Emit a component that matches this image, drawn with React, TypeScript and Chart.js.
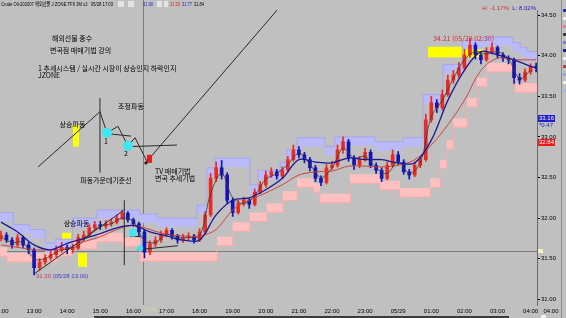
import React, { useEffect, useRef } from 'react';
import { Chart, registerables } from 'chart.js';

Chart.register(...registerables);

// 10-minute bars starting 05/28 12:00 (x value = minutes since 12:00)
const BAR_MIN = 10;
const opens = [
  31.76,31.79,31.73,31.67,31.76,31.67,31.61,31.39,31.46,31.51,
  31.55,31.61,31.64,31.61,31.63,31.76,31.79,31.88,31.92,31.90,
  31.93,31.95,32.00,32.06,31.98,31.93,31.83,31.58,31.68,31.73,
  31.80,31.85,31.78,31.73,31.76,31.78,31.73,31.83,32.04,32.49,
  32.62,32.53,32.22,32.07,32.18,32.22,32.17,32.32,32.41,32.53,
  32.57,32.52,32.59,32.72,32.84,32.78,32.72,32.62,32.49,32.44,
  32.62,32.65,32.84,32.94,32.74,32.65,32.72,32.81,32.65,32.59,
  32.49,32.65,32.78,32.69,32.57,32.53,32.65,32.72,33.21,33.42,
  33.36,33.52,33.70,33.76,33.85,34.01,34.13,34.01,33.95,34.05,
  34.10,34.01,33.97,33.95,33.73,33.70,33.80,33.87,
];
const highs = [
  31.84,31.82,31.76,31.80,31.78,31.70,31.63,31.50,31.55,31.60,
  31.66,31.70,31.67,31.68,31.80,31.84,31.92,31.96,31.96,31.97,
  31.99,32.04,32.10,32.08,32.00,31.95,31.86,31.72,31.77,31.84,
  31.88,31.87,31.80,31.80,31.82,31.80,31.87,32.08,32.55,32.69,
  32.71,32.56,32.25,32.22,32.26,32.24,32.36,32.45,32.58,32.62,
  32.60,32.63,32.76,32.90,32.88,32.81,32.75,32.65,32.52,32.66,
  32.70,32.90,33.00,32.97,32.77,32.76,32.86,32.84,32.68,32.62,
  32.69,32.84,32.82,32.72,32.60,32.69,32.76,33.28,33.50,33.46,
  33.58,33.76,33.82,33.92,34.08,34.21,34.16,34.04,34.10,34.16,
  34.12,34.04,34.00,33.97,33.78,33.84,33.90,33.91,
];
const lows = [
  31.72,31.70,31.63,31.65,31.64,31.56,31.30,31.36,31.43,31.48,
  31.52,31.58,31.56,31.57,31.61,31.72,31.77,31.85,31.86,31.87,
  31.90,31.93,31.98,31.95,31.90,31.78,31.51,31.55,31.65,31.70,
  31.77,31.74,31.69,31.70,31.73,31.69,31.71,31.81,32.02,32.45,
  32.48,32.18,32.02,32.05,32.15,32.12,32.15,32.30,32.38,32.50,
  32.48,32.49,32.57,32.70,32.74,32.68,32.58,32.45,32.40,32.42,
  32.60,32.63,32.80,32.70,32.60,32.62,32.70,32.62,32.55,32.45,
  32.47,32.63,32.66,32.54,32.48,32.51,32.62,32.70,33.18,33.30,
  33.33,33.50,33.66,33.73,33.82,33.98,33.96,33.90,33.93,34.02,
  33.97,33.93,33.90,33.66,33.65,33.68,33.77,33.80,
];
const closes = [
  31.79,31.73,31.67,31.76,31.67,31.61,31.39,31.46,31.51,31.55,
  31.61,31.64,31.61,31.63,31.76,31.79,31.88,31.92,31.90,31.93,
  31.95,32.00,32.06,31.98,31.93,31.83,31.58,31.68,31.73,31.80,
  31.85,31.78,31.73,31.76,31.78,31.73,31.83,32.04,32.49,32.62,
  32.53,32.22,32.07,32.18,32.22,32.17,32.32,32.41,32.53,32.57,
  32.52,32.59,32.72,32.84,32.78,32.72,32.62,32.49,32.44,32.62,
  32.65,32.84,32.94,32.74,32.65,32.72,32.81,32.65,32.59,32.49,
  32.65,32.78,32.69,32.57,32.53,32.65,32.72,33.21,33.42,33.36,
  33.52,33.70,33.76,33.85,34.01,34.13,34.01,33.95,34.05,34.10,
  34.01,33.97,33.95,33.73,33.70,33.80,33.87,33.85,
];

// moving averages (every 30 minutes)
const maTimes = [0,30,60,90,120,150,180,210,240,270,300,330,360,390,420,450,480,510,540,570,600,630,660,690,720,750,780,810,840,870,900,930,960,970];
const blueMA = [31.95,31.83,31.67,31.61,31.69,31.75,31.81,31.88,31.91,31.83,31.78,31.73,31.73,32.04,32.22,32.25,32.35,32.49,32.72,32.69,32.68,32.74,32.72,32.72,32.68,32.68,32.96,33.45,33.82,34.05,34.01,33.95,33.87,33.85];
const redMA = [31.67,31.64,31.61,31.61,31.63,31.71,31.77,31.86,31.91,31.86,31.80,31.78,31.78,31.86,32.10,32.22,32.31,32.41,32.53,32.57,32.58,32.64,32.64,32.63,32.65,32.72,32.90,33.15,33.45,33.82,33.97,33.95,33.95,33.95];
// fast line (every 20 minutes)
const FAST_MIN = 20;
const fastLine = [
  31.76,31.70,31.70,31.50,31.50,31.58,31.62,31.66,31.80,31.90,
  31.93,32.00,31.96,31.72,31.70,31.80,31.76,31.76,31.78,32.30,
  32.55,32.25,32.18,32.28,32.48,32.55,32.66,32.80,32.66,32.50,
  32.62,32.86,32.74,32.76,32.62,32.55,32.70,32.55,32.68,33.25,
  33.45,33.72,33.95,34.05,34.02,34.05,33.96,33.72,33.82,
];

// step bands: start minute and top price of each step
const blueBandT = [-2,22,52,80,98,130,174,252,283,355,373,388,451,466,506,518,537,587,605,678,729,765,801,836,874,928,941,955,972];
const blueBandV = [32.07,31.92,31.86,31.69,31.74,32.00,32.10,32.05,32.00,32.16,32.62,32.74,32.41,32.59,32.69,32.84,32.99,32.88,33.00,32.94,32.99,33.52,33.89,34.19,34.23,34.16,34.10,34.05,34.05];
const pinkBandT = [-2,11,102,129,174,221,252,392,420,451,482,511,537,566,578,633,687,723,778,796,808,820,845,863,881,932,972];
const pinkBandV = [31.64,31.57,31.64,31.73,31.82,31.76,31.58,31.77,31.95,32.07,32.18,32.33,32.49,32.43,32.30,32.54,32.46,32.37,32.49,32.72,32.96,33.23,33.48,33.73,33.91,33.66,33.66];
const BLUE_BAND_W = 0.11;
const PINK_BAND_W = 0.11;

// axes
const hourTicks = [60,120,180,240,300,360,420,480,540,600,660,720,780,840,900,960];
const hourLabels = ['13:00','14:00','15:00','16:00','17:00','18:00','19:00','20:00','21:00','22:00','23:00','05/29','01:00','02:00','03:00','04:00'];
const yTicks = [31, 31.5, 32, 32.5, 33, 33.5, 34, 34.5];

// drawing-tool annotations (minute, price)
const polyLines = [
  [67.1,32.63, 179.4,33.31, 192.1,33.05, 212.1,33.13, 230.2,32.89, 242.9,32.99, 264.6,32.70, 500.3,34.56],
  [192.1,33.04, 235.6,33.01],
  [230.2,32.88, 319.0,32.90],
  [179.4,33.48, 179.4,32.56],
  [61.6,31.32, 221.1,32.09],
  [223.5,32.22, 223.5,31.42],
  [233.8,31.78, 253.8,31.77],
  [246.5,31.61, 320.8,31.66],
];
const yellowBoxes = [
  [130.5,141.4, 33.15,32.88],
  [110.6,126.9, 31.82,31.64],
  [139.6,155.9, 31.57,31.40],
  [774,874, 34.11,33.98],
];
const cyanDots = [
  [192.1,33.05,5],
  [230.2,32.89,5],
  [239.3,31.82,4],
  [252.0,31.63,3],
];
const crossT = 257.4;
const crossV = 31.595;
const texts: [string, number, number, string, CanvasTextAlign][] = [
  ['해외선물 중수', 92.4, 34.22, '#000', 'left'],
  ['변곡점 매매기법 강의', 88.8, 34.06, '#000', 'left'],
  ['1 추세시스템 / 실시간 시장이 상승인지 하락인지', 67.1, 33.85, '#000', 'left'],
  ['JZONE', 67.1, 33.76, '#000', 'left'],
  ['상승파동', 129.6, 33.15, '#000', 'center'],
  ['조정파동', 235.6, 33.38, '#000', 'center'],
  ['파동가운데기준선', 190.3, 32.47, '#000', 'center'],
  ['1', 190.3, 32.94, '#000', 'center'],
  ['2', 226.6, 32.80, '#000', 'center'],
  ['TV 매매기법', 279.1, 32.58, '#000', 'left'],
  ['변곡 추세기법', 279.1, 32.49, '#000', 'left'],
  ['상승파동', 136.9, 31.93, '#000', 'center'],
  ['34.21 (05/29 02:30)', 783, 34.22, '#d03030', 'left'],
];

const UP = '#e82a22';
const DOWN = '#1414b4';

export default function App() {
  const ref = useRef<HTMLCanvasElement | null>(null);
  useEffect(() => {
    const canvas = ref.current;
    if (!canvas) return;
    Chart.defaults.font.family = '"Liberation Sans", Arial, sans-serif';
    const colors = closes.map((c, i) => (c >= opens[i] ? UP : DOWN));
    const mkBand = (T: number[], V: number[], dv: number) => T.map((t, i) => ({ x: t, y: V[i] - dv }));

    const fitText = (c: CanvasRenderingContext2D, s: string, x: number, y: number, w: number) => {
      const m = c.measureText(s).width;
      const sx = Math.min(1, w / m);
      c.save();
      c.translate(x, y);
      c.scale(sx, 1);
      c.fillText(s, 0, 0);
      c.restore();
    };

    const bgPlugin = {
      id: 'bg',
      beforeDraw(chart: any) {
        const c = chart.ctx;
        c.save();
        c.fillStyle = '#c0c0c0';
        c.fillRect(0, 0, chart.width, chart.height);
        c.restore();
      },
    };

    const annoPlugin = {
      id: 'anno',
      beforeDatasetsDraw(chart: any) {
        const c = chart.ctx;
        const a = chart.chartArea;
        const X = (t: number) => chart.scales.x.getPixelForValue(t);
        const Y = (v: number) => chart.scales.y.getPixelForValue(v);
        c.save();
        c.beginPath();
        c.rect(a.left, a.top, a.right - a.left, a.bottom - a.top);
        c.clip();
        c.fillStyle = '#ffff00';
        yellowBoxes.forEach(([t0, t1, v0, v1]) => {
          c.fillRect(X(t0), Y(v0), X(t1) - X(t0), Y(v1) - Y(v0));
        });
        c.restore();
        c.save();
        c.strokeStyle = '#7c7c7c';
        c.lineWidth = 1;
        c.beginPath();
        c.moveTo(Math.round(X(crossT)) + 0.5, a.top - 10);
        c.lineTo(Math.round(X(crossT)) + 0.5, a.bottom);
        c.moveTo(a.left, Math.round(Y(crossV)) + 0.5);
        c.lineTo(a.right, Math.round(Y(crossV)) + 0.5);
        c.stroke();
        c.restore();
      },
      afterDatasetsDraw(chart: any) {
        const c = chart.ctx;
        const a = chart.chartArea;
        const X = (t: number) => chart.scales.x.getPixelForValue(t);
        const Y = (v: number) => chart.scales.y.getPixelForValue(v);
        c.save();
        c.beginPath();
        c.rect(a.left, 0, a.right - a.left, a.bottom);
        c.clip();
        c.strokeStyle = '#2a2a2a';
        c.lineWidth = 1;
        polyLines.forEach((p) => {
          c.beginPath();
          for (let i = 0; i < p.length; i += 2) {
            const x = X(p[i]);
            const y = Y(p[i + 1]);
            if (i === 0) c.moveTo(x, y);
            else c.lineTo(x, y);
          }
          c.stroke();
        });
        c.fillStyle = '#e02020';
        c.fillRect(X(264.6), Y(32.78), X(273.7) - X(264.6), Y(32.68) - Y(32.78));
        c.fillStyle = '#202020';
        c.beginPath();
        c.arc(X(262.8), Y(32.68), 1.6, 0, Math.PI * 2);
        c.fill();
        c.fillStyle = '#3fe6f2';
        cyanDots.forEach(([t, v, r]) => {
          c.beginPath();
          c.arc(X(t), Y(v), r, 0, Math.PI * 2);
          c.fill();
        });
        c.font = '7px "Noto Sans CJK KR", sans-serif';
        c.textBaseline = 'middle';
        texts.forEach(([s, t, v, col, al]) => {
          c.fillStyle = col;
          c.textAlign = al;
          c.fillText(s, X(t), Y(v));
        });
        c.textAlign = 'left';
        c.font = '6px "Liberation Sans", sans-serif';
        c.fillStyle = '#d0307a';
        const lx = X(63.4);
        const ly = Y(31.28);
        c.fillText('31.30', lx, ly);
        c.fillStyle = '#4040c8';
        c.fillText(' (05/28 13:00)', lx + c.measureText('31.30').width, ly);
        c.restore();
      },
      afterDraw(chart: any) {
        const c = chart.ctx;
        const X = (t: number) => chart.scales.x.getPixelForValue(t);
        const Y = (v: number) => chart.scales.y.getPixelForValue(v);
        c.save();
        c.textBaseline = 'middle';
        c.font = '6px "Liberation Sans", "Noto Sans CJK KR", sans-serif';
        c.fillStyle = '#000';
        c.textAlign = 'left';
        fitText(c, 'Crude Oil-202007 해외선물 J ZONE TF6 3M x2   05/28 17:03', 1, 4, 112);
        c.fillStyle = '#e4e4e4';
        c.fillRect(118, 1, 6, 6);
        c.fillRect(128, 1, 6, 6);
        c.fillRect(157, 1, 5, 6);
        c.fillRect(164, 1, 4, 6);
        c.fillStyle = '#2020c0';
        fitText(c, '31.90', 143, 4, 10);
        c.fillStyle = '#e02020';
        fitText(c, '31.59', 170, 4, 10);
        c.fillStyle = '#2020c0';
        fitText(c, '31.77', 182, 4, 10);
        c.fillStyle = '#000';
        fitText(c, '31.84', 194, 4, 10);
        c.textAlign = 'right';
        c.fillStyle = '#2020c0';
        c.fillText('L: 8.02%', 536, 8);
        const lw = c.measureText('L: 8.02%').width;
        c.fillStyle = '#d03030';
        c.fillText('H: -1.17%  ', 536 - lw, 8);
        c.textAlign = 'left';
        c.fillStyle = '#1c1cc8';
        c.fillRect(538, 115, 17, 7);
        c.fillStyle = '#fff';
        c.fillText('33.16', 539, 118.5);
        c.fillStyle = '#1c1cc8';
        c.fillText('*0.47', 539, 125);
        c.fillStyle = '#f01818';
        c.fillRect(538, 139, 17, 7);
        c.fillStyle = '#fff';
        c.fillText('32.84', 539, 142.5);
        const cy = Math.round(Y(crossV));
        c.fillStyle = '#f4f0c0';
        c.fillRect(538, cy - 2, 5, 4);
        c.strokeStyle = '#8a8a8a';
        c.beginPath();
        c.moveTo(561.5, 0);
        c.lineTo(561.5, 318);
        c.stroke();
        const marks = ['#3030c0', '#f0f0f0', '#e080a0', '#404040', '#8080d0', '#2020a0', '#f0f0f0', '#c04040', '#a0a0e0', '#f0f0f0', '#b0b0f0'];
        marks.forEach((col, i) => {
          c.fillStyle = col;
          c.fillRect(563, 9 + i * 8, 3, 3);
        });
        // partial 12:00 tick label and corner time label
        c.fillStyle = '#000';
        c.textAlign = 'center';
        c.fillText('12:00', X(0), 311);
        c.fillText('04:00', 551, 311);
        c.textAlign = 'left';
        c.fillStyle = '#d8d890';
        c.font = '5px "Liberation Sans", sans-serif';
        c.fillText('17:03', 144, 310);
        c.fillStyle = '#3c3c3c';
        c.fillRect(94, 316, 415, 2);
        c.fillStyle = '#f0f0f0';
        c.fillRect(541, 315, 5, 3);
        c.restore();
      },
    };

    const chart = new Chart(canvas, {
      type: 'bar',
      data: {
        datasets: [
          {
            type: 'line',
            data: maTimes.map((t, i) => ({ x: t, y: blueMA[i] })),
            borderColor: '#1a1a96',
            borderWidth: 1.3,
            pointRadius: 0,
            tension: 0.35,
            order: 1,
          } as any,
          {
            type: 'line',
            data: fastLine.map((v, i) => ({ x: i * FAST_MIN, y: v })),
            borderColor: '#3a3a3a',
            borderWidth: 0.8,
            pointRadius: 0,
            tension: 0.35,
            order: 2,
          } as any,
          {
            type: 'line',
            data: maTimes.map((t, i) => ({ x: t, y: redMA[i] })),
            borderColor: '#cc4444',
            borderWidth: 1,
            pointRadius: 0,
            tension: 0.35,
            order: 3,
          } as any,
          {
            type: 'bar',
            data: opens.map((o, i) => ({ x: i * BAR_MIN, y: [o, closes[i]] })),
            backgroundColor: colors,
            barThickness: 3,
            minBarLength: 1,
            grouped: false,
            order: 4,
          } as any,
          {
            type: 'bar',
            data: lows.map((l, i) => ({ x: i * BAR_MIN, y: [l, highs[i]] })),
            backgroundColor: colors,
            barThickness: 1,
            grouped: false,
            order: 5,
          } as any,
          {
            type: 'line',
            data: mkBand(blueBandT, blueBandV, 0),
            stepped: true,
            borderColor: '#a6a6ee',
            borderWidth: 1,
            pointRadius: 0,
            fill: false,
            order: 10,
          } as any,
          {
            type: 'line',
            data: mkBand(blueBandT, blueBandV, BLUE_BAND_W),
            stepped: true,
            borderWidth: 0,
            pointRadius: 0,
            fill: '-1',
            backgroundColor: 'rgb(186,186,248)',
            order: 10,
          } as any,
          {
            type: 'line',
            data: mkBand(pinkBandT, pinkBandV, 0),
            stepped: true,
            borderWidth: 0,
            pointRadius: 0,
            fill: false,
            order: 11,
          } as any,
          {
            type: 'line',
            data: mkBand(pinkBandT, pinkBandV, PINK_BAND_W),
            stepped: true,
            borderColor: '#ffaaaa',
            borderWidth: 1,
            pointRadius: 0,
            fill: '-1',
            backgroundColor: 'rgb(255,192,192)',
            order: 11,
          } as any,
        ],
      },
      options: {
        responsive: false,
        maintainAspectRatio: false,
        devicePixelRatio: 1,
        animation: false,
        events: [],
        layout: { padding: { top: 10, left: 0, right: 0, bottom: 0 } },
        plugins: { legend: { display: false }, tooltip: { enabled: false } },
        scales: {
          x: {
            type: 'linear',
            min: -1.8,
            max: 971.6,
            offset: false,
            grid: { display: false, drawTicks: false },
            border: { display: false },
            afterBuildTicks: (axis: any) => {
              axis.ticks = hourTicks.map((v) => ({ value: v }));
            },
            afterFit: (axis: any) => {
              axis.height = 13;
            },
            ticks: {
              autoSkip: false,
              maxRotation: 0,
              minRotation: 0,
              padding: 3,
              color: '#000',
              font: { size: 6 },
              callback: (v: any) => {
                const k = hourTicks.indexOf(Number(v));
                return k >= 0 ? hourLabels[k] : '';
              },
            },
          },
          y: {
            type: 'linear',
            position: 'right',
            min: 30.93,
            max: 34.563,
            grid: { drawOnChartArea: false, drawTicks: true, tickLength: 3, color: '#000' },
            border: { display: true, color: '#6a6a6a' },
            afterBuildTicks: (axis: any) => {
              axis.ticks = yTicks.map((v) => ({ value: v }));
            },
            afterFit: (axis: any) => {
              axis.width = 29;
            },
            ticks: {
              padding: 1,
              color: '#000',
              font: { size: 6 },
              callback: (v: any) => Number(v).toFixed(2),
            },
          },
        },
      } as any,
      plugins: [bgPlugin, annoPlugin],
    });
    return () => chart.destroy();
  }, []);

  return (
    <div style={{ position: 'absolute', left: 0, top: 0, width: 566, height: 318 }}>
      <canvas ref={ref} width={566} height={318} style={{ display: 'block' }} />
    </div>
  );
}
